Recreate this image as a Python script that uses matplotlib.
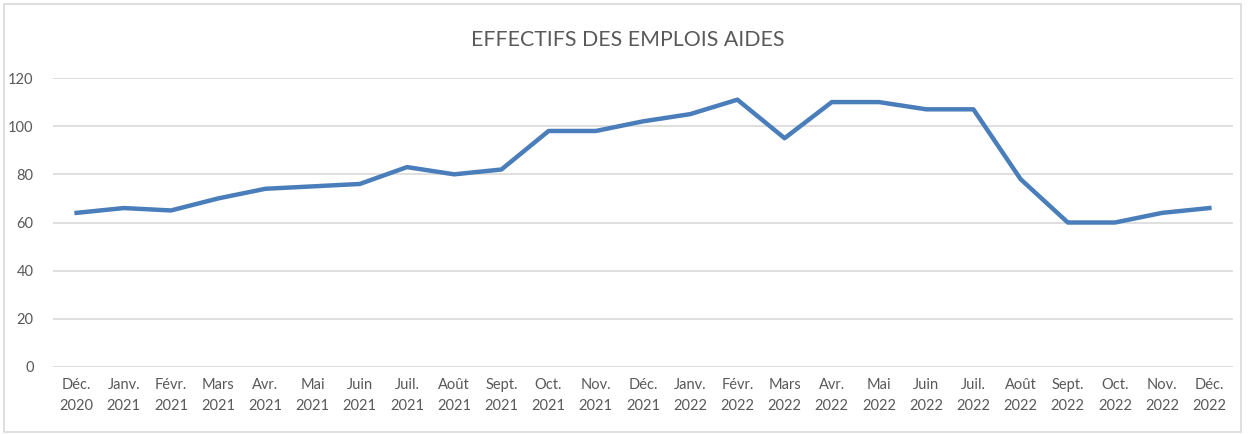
import matplotlib
matplotlib.use("Agg")
import matplotlib.pyplot as plt
from matplotlib.patches import Rectangle

months = ["Déc.", "Janv.", "Févr.", "Mars", "Avr.", "Mai", "Juin", "Juil.", "Août",
          "Sept.", "Oct.", "Nov.", "Déc.", "Janv.", "Févr.", "Mars", "Avr.", "Mai",
          "Juin", "Juil.", "Août", "Sept.", "Oct.", "Nov.", "Déc."]
years = ["2020"] + ["2021"] * 12 + ["2022"] * 12
values = [64, 66, 65, 70, 74, 75, 76, 83, 80, 82, 98, 98, 102, 105, 111,
          95, 110, 110, 107, 107, 78, 60, 60, 64, 66]
labels = [f"{m}\n{y}" for m, y in zip(months, years)]

plt.rcParams["font.family"] = ["Lato", "DejaVu Sans"]
txt = "#595959"

fig = plt.figure(figsize=(12.49, 4.34), dpi=100)
ax = fig.add_axes([53 / 1249, 1 - 367 / 434, 1180 / 1249, 289 / 434])

x = range(len(values))
ax.plot(x, values, color="#4A7EBB", lw=3.2, solid_joinstyle="round", zorder=3)

ax.set_xlim(-0.5, len(values) - 0.5)
ax.set_ylim(0, 120)
ax.set_yticks(range(0, 121, 20))
ax.yaxis.grid(True, color="#D9D9D9", lw=1.2)
ax.set_axisbelow(True)
for s in ax.spines.values():
    s.set_visible(False)
ax.tick_params(length=0, colors=txt, labelsize=10.5)
ax.tick_params(axis="y", pad=14)
ax.tick_params(axis="x", pad=8)
ax.set_xticks(list(x))
ax.set_xticklabels(labels, linespacing=1.6)

fig.text(628 / 1249, 1 - 40 / 434, "EFFECTIFS DES EMPLOIS AIDES", ha="center",
         va="center", fontsize=15.3, color=txt)

fig.patches.append(Rectangle((4 / 1249, 2 / 434), 1237 / 1249, 428 / 434,
                             transform=fig.transFigure, fill=False,
                             ec="#D9D9D9", lw=1.2))

fig.savefig("out.png", dpi=100)
